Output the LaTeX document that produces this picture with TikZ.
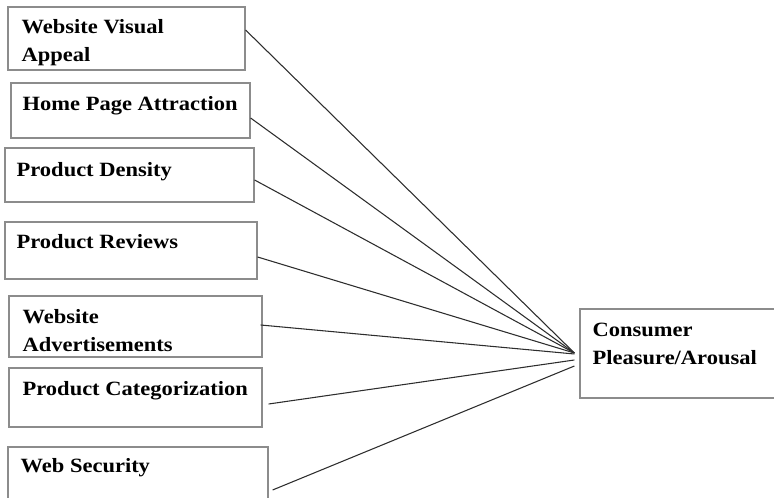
\documentclass[tikz,border=0pt]{standalone}
\usepackage{fontspec}
\setmainfont[FakeStretch=1.11]{Liberation Serif}
\usetikzlibrary{calc}
\definecolor{boxgray}{RGB}{140,140,140}
\definecolor{linkgray}{RGB}{45,45,45}

\begin{document}
\begin{tikzpicture}[
  x=0.75pt, y=-0.75pt,
    box/.style={
        draw=boxgray,
        line width=0.9pt,
        rectangle,
        inner sep=0pt
    },
    txt/.style={
        anchor=north west,
        inner sep=0pt,
        align=left,
        font=\fontsize{15.2}{21}\selectfont\bfseries
    },
    link/.style={
        draw=linkgray,
        line width=0.8pt
    }
]
\useasboundingbox (0,0) rectangle (774,498);

% the factors on the left
\node[box, minimum width=177.75pt, minimum height=47.25pt] (visual) at (126.5,38.5) {};
\node[box, minimum width=179.25pt, minimum height=41.25pt] (homepage) at (130.5,110.5) {};
\node[box, minimum width=186.75pt, minimum height=40.5pt] (density) at (129.5,175) {};
\node[box, minimum width=189pt, minimum height=42.75pt] (reviews) at (131,250.5) {};
\node[box, minimum width=189.75pt, minimum height=45.75pt] (adverts) at (135.5,326.5) {};
\node[box, minimum width=189.75pt, minimum height=44.25pt] (categ) at (135.5,397.5) {};
\node[box, minimum width=195pt, minimum height=75pt] (security) at (138,497) {};

% the outcome on the right
\node[box, minimum width=195pt, minimum height=66.75pt] (consumer) at (710,353.5) {};

\node[txt] (visualtxt) at ($(visual.north west)+(14,13)$) {Website Visual\\Appeal};
\node[txt] (homepagetxt) at ($(homepage.north west)+(12,14)$) {Home Page Attraction};
\node[txt] (densitytxt) at ($(density.north west)+(12,15)$) {Product Density};
\node[txt] (reviewstxt) at ($(reviews.north west)+(12,13)$) {Product Reviews};
\node[txt] (advertstxt) at ($(adverts.north west)+(14,14)$) {Website\\Advertisements};
\node[txt] (categtxt) at ($(categ.north west)+(14,14)$) {Product Categorization};
\node[txt] (securitytxt) at ($(security.north west)+(13,12)$) {Web Security};
\node[txt] (consumertxt) at ($(consumer.north west)+(13,14)$) {Consumer\\Pleasure/Arousal};

\draw[link] ($(visual.east)+(0,-8.5)$) -- ($(consumer.west)+(-5,-0.5)$);
\draw[link] ($(homepage.east)+(0,7.5)$) -- ($(consumer.west)+(-5,-0.5)$);
\draw[link] ($(density.east)+(0,5)$) -- ($(consumer.west)+(-5,-0.5)$);
\draw[link] ($(reviews.east)+(0,6.5)$) -- ($(consumer.west)+(-5,-0.5)$);
\draw[link] ($(adverts.east)+(-2,-1.5)$) -- ($(consumer.west)+(-5,0.5)$);
\draw[link] ($(categ.east)+(6,6.5)$) -- ($(consumer.west)+(-5,6.5)$);
\draw[link] ($(security.east)+(4,-7)$) -- ($(consumer.west)+(-5,12.5)$);

\end{tikzpicture}
\end{document}
